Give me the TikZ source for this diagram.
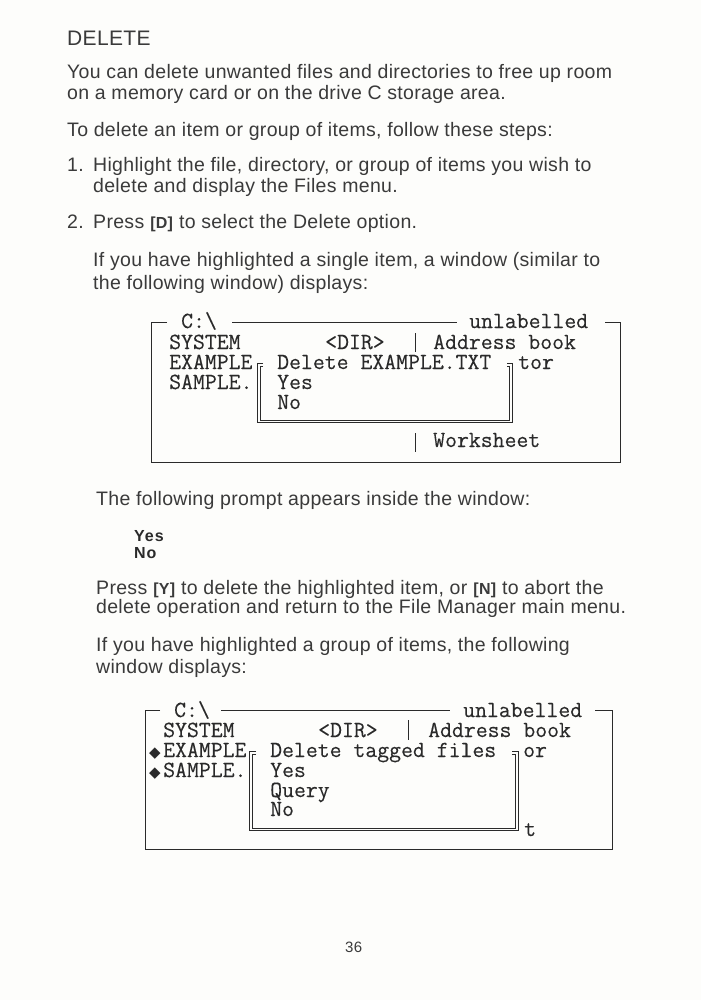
\documentclass[tikz,border=0pt]{standalone}
\usepackage{fontspec}
\setmainfont[LetterSpace=1.6]{Liberation Sans}
\setmonofont[FakeBold=0.2]{Latin Modern Mono}
\newfontfamily\symfont{DejaVu Sans}
\usepackage{xcolor}
\definecolor{paper}{HTML}{FDFDFB}
\definecolor{ink}{HTML}{3A3A3A}
\definecolor{scrn}{HTML}{2A2A2A}
\tikzset{
    bodytext/.style={anchor=base west, inner sep=0pt, text=ink, font=\fontsize{19.5}{20}\selectfont},
    scrtext/.style={anchor=base west, inner sep=0pt, text=scrn, text height=13pt, text depth=3pt, font=\fontsize{23.1}{20}\ttfamily},
    promptext/.style={anchor=base west, inner sep=0pt, text=scrn, font=\fontsize{16}{16}\bfseries\addfontfeatures{LetterSpace=6}},
    frameline/.style={draw=scrn, line width=1pt},
    dlgline/.style={draw=scrn, line width=0.8pt}
}

\begin{document}
\begin{tikzpicture}[x=1pt, y=-1pt]
    \useasboundingbox[fill=paper] (0,0) rectangle (701,1000);

    % Heading and first paragraphs
    \node[bodytext, font=\fontsize{21}{24}\selectfont] (title) at (67,46) {DELETE};
    \node[bodytext] (introa) at (67,79) {You can delete unwanted files and directories to free up room};
    \node[bodytext] (introb) at (67,100) {on a memory card or on the drive C storage area.};
    \node[bodytext] (introc) at (67,137) {To delete an item or group of items, follow these steps:};
    \node[bodytext] (stepa) at (67,172) {1.};
    \node[bodytext] (stepatxt) at (93,172) {Highlight the file, directory, or group of items you wish to};
    \node[bodytext] (stepatwo) at (93,193) {delete and display the Files menu.};
    \node[bodytext] (stepb) at (67,229) {2.};
    \node[bodytext] (stepbtxt) at (93,229) {Press {\fontsize{16}{18}\selectfont\textbf{[D]}} to select the Delete option.};
    \node[bodytext] (singlea) at (93,266) {If you have highlighted a single item, a window (similar to};
    \node[bodytext] (singleb) at (93,289) {the following window) displays:};

    % First window
    \node[scrtext] (cdrive) at (181,328) {C:\textbackslash};
    \node[scrtext] (label) at (469,328) {unlabelled};
    \node[scrtext] (system) at (169,349) {SYSTEM};
    \node[scrtext] (dir) at (325,349) {<DIR>};
    \node[scrtext] (address) at (433,349) {Address book};
    \node[scrtext] (example) at (169,369) {EXAMPLE};
    \node[scrtext] (delete) at (277,369) {Delete EXAMPLE.TXT};
    \node[scrtext] (tor) at (518,369) {tor};
    \node[scrtext] (sample) at (169,389) {SAMPLE.};
    \node[scrtext] (yes) at (277,389) {Yes};
    \node[scrtext] (no) at (277,409) {No};
    \node[scrtext] (work) at (433,447) {Worksheet};
    \draw[frameline] (167,322) -- (151,322) -- (151,462) -- (620,462) -- (620,322) -- (605,322);
    \draw[frameline] (232,322) -- (457,322);
    \draw[frameline] (415,333) -- (415,352);
    \draw[frameline] (415,433) -- (415,452);
    % Dialog frame
    \draw[dlgline] (263,363) -- (257,363) -- (257,422) -- (512,422) -- (512,363) -- (507,363);
    \draw[dlgline] (263,366) -- (260,366) -- (260,420) -- (509,420) -- (509,366) -- (507,366);

    % Prompt text
    \node[bodytext] (prompt) at (96,505) {The following prompt appears inside the window:};
    \node[promptext] (pyes) at (134,541) {Yes};
    \node[promptext] (pno) at (134,558) {No};
    \node[bodytext] (pressa) at (96,594) {Press {\fontsize{16}{18}\selectfont\textbf{[Y]}} to delete the highlighted item, or {\fontsize{16}{18}\selectfont\textbf{[N]}} to abort the};
    \node[bodytext] (pressb) at (96,613) {delete operation and return to the File Manager main menu.};
    \node[bodytext] (groupa) at (96,651) {If you have highlighted a group of items, the following};
    \node[bodytext] (groupb) at (96,673) {window displays:};

    % Second window
    \node[scrtext] (cdrivetwo) at (174,717) {C:\textbackslash};
    \node[scrtext] (labeltwo) at (463,717) {unlabelled};
    \node[scrtext] (systemtwo) at (163,737) {SYSTEM};
    \node[scrtext] (dirtwo) at (318,737) {<DIR>};
    \node[scrtext] (addresstwo) at (428,737) {Address book};
    \node[scrtext, font=\fontsize{15}{14}\symfont] (marka) at (149,757) {◆};
    \node[scrtext] (exampletwo) at (163,757) {EXAMPLE};
    \node[scrtext] (deletetwo) at (270,757) {Delete tagged files};
    \node[scrtext] (ortwo) at (523,757) {or};
    \node[scrtext, font=\fontsize{15}{14}\symfont] (markb) at (149,777) {◆};
    \node[scrtext] (sampletwo) at (163,777) {SAMPLE.};
    \node[scrtext] (yestwo) at (270,777) {Yes};
    \node[scrtext] (query) at (270,797) {Query};
    \node[scrtext] (notwo) at (270,816) {No};
    \node[scrtext] (ttwo) at (524,836) {t};
    \draw[frameline] (160,710) -- (145,710) -- (145,849) -- (612,849) -- (612,710) -- (595,710);
    \draw[frameline] (221,710) -- (450,710);
    \draw[frameline] (408,720) -- (408,740);
    % Dialog frame
    \draw[dlgline] (256,751) -- (249,751) -- (249,830) -- (518,830) -- (518,751) -- (512,751);
    \draw[dlgline] (256,754) -- (252,754) -- (252,828) -- (515,828) -- (515,754) -- (512,754);

    % Page number
    \node[bodytext, font=\fontsize{15}{18}\selectfont] (page) at (345,952) {36};
\end{tikzpicture}
\end{document}
